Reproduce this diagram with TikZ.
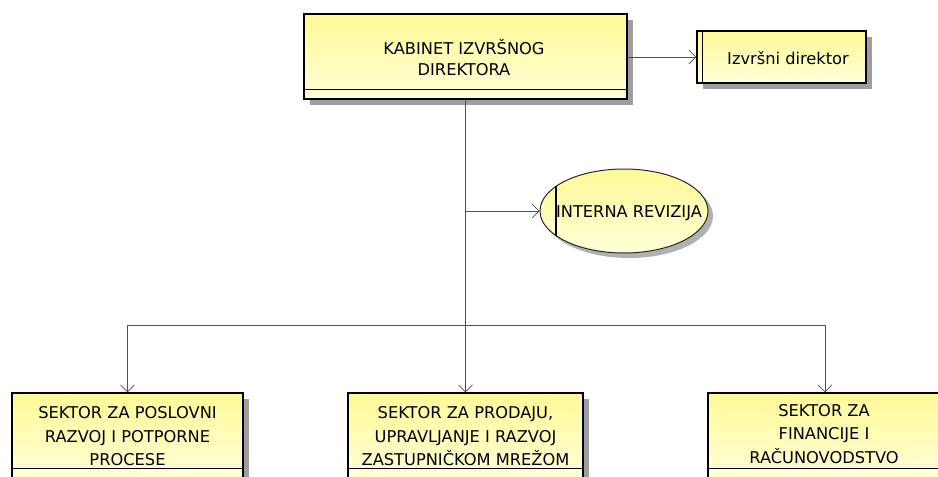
\documentclass[tikz,border=0pt]{standalone}
\usepackage{fontspec}
\setmainfont{DejaVu Sans}
\usetikzlibrary{arrows.meta,shadows,shapes.geometric}
\definecolor{yTop}{RGB}{255,249,150}
\definecolor{yBot}{RGB}{255,255,216}
\definecolor{shd}{RGB}{158,158,158}
\definecolor{lineC}{RGB}{80,80,80}
\tikzset{
  box/.style={draw=black, line width=1.4bp, rectangle, top color=yTop, bottom color=yBot,
    drop shadow={shadow xshift=6bp, shadow yshift=-6bp, fill=shd, opacity=1}, inner sep=0pt},
  oval/.style={draw=black!85, line width=1bp, ellipse, top color=yTop, bottom color=yBot,
    drop shadow={shadow xshift=5bp, shadow yshift=-5bp, fill=shd, opacity=0.8}, inner sep=0pt},
  lbl/.style={font=\fontsize{16.3}{23.5}\selectfont, align=center, inner sep=0pt},
  lbltop/.style={font=\fontsize{16.3}{22}\selectfont, align=center, inner sep=0pt},
  conn/.style={draw=lineC, line width=0.8bp},
  arr/.style={conn, -{Straight Barb[length=7bp,width=14bp,line width=0.7bp]}},
  sepline/.style={draw=black, line width=1bp},
  bar/.style={draw=black, line width=1.4bp},
}
\begin{document}
\begin{tikzpicture}[x=1bp, y=-1bp]
\useasboundingbox (0,0) rectangle (938,477);
\begin{scope}
\clip (0,0) rectangle (938,477);
% top box
\node[box, minimum width=323bp, minimum height=85bp] (kab) at (465.5,56.5) {};
\draw[sepline] ([yshift=10bp]kab.south west) -- ([yshift=10bp]kab.south east);
\node[lbltop, anchor=base] (kabt) at (464,76) {KABINET IZVRŠNOG\\DIREKTORA};
% executive director
\node[box, minimum width=169bp, minimum height=52bp] (izv) at (781.5,57) {};
\draw[bar] ([xshift=6bp]izv.north west) -- ([xshift=6bp]izv.south west);
\node[lbl, anchor=base] (izvt) at (788,64.5) {Izvršni direktor};
% internal audit
\node[oval, minimum width=168bp, minimum height=84bp] (rev) at (624,211) {};
\begin{scope}
\clip (rev.center) ellipse [x radius=84bp, y radius=42bp];
\draw[bar] ([xshift=-68bp,yshift=60bp]rev.center) -- ([xshift=-68bp,yshift=-60bp]rev.center);
\end{scope}
\node[lbl, anchor=base] (revt) at (629,218) {INTERNA REVIZIJA};
% bottom boxes
\node[box, minimum width=231bp, minimum height=85bp] (left) at (127.5,435.5) {};
\draw[sepline] ([yshift=10bp]left.south west) -- ([yshift=10bp]left.south east);
\node[box, minimum width=235bp, minimum height=85bp] (mid) at (465.5,435.5) {};
\draw[sepline] ([yshift=10bp]mid.south west) -- ([yshift=10bp]mid.south east);
\node[box, minimum width=234bp, minimum height=85bp] (right) at (825,435.5) {};
\draw[sepline] ([yshift=10bp]right.south west) -- ([yshift=10bp]right.south east);
\node[lbl, anchor=base] (leftt) at (127.5,465.5) {SEKTOR ZA POSLOVNI\\RAZVOJ I POTPORNE\\PROCESE};
\node[lbl, anchor=base] (midt) at (465.5,465.5) {SEKTOR ZA PRODAJU,\\UPRAVLJANJE I RAZVOJ\\ZASTUPNIČKOM MREŽOM};
\node[lbl, anchor=base] (rightt) at (824,463) {SEKTOR ZA\\FINANCIJE I\\RAČUNOVODSTVO};
% connectors
\coordinate (jr) at (kab.south |- rev.west);
\coordinate (jb) at (465.5,325);
\draw[arr] (kab.east |- izv.west) -- (izv.west);
\draw[arr] (kab.south) -- (mid.north);
\draw[arr] (jr) -- (rev.west);
\draw[arr] (jb) -| (left.north);
\draw[arr] (jb) -| (right.north);
\end{scope}
\end{tikzpicture}
\end{document}
